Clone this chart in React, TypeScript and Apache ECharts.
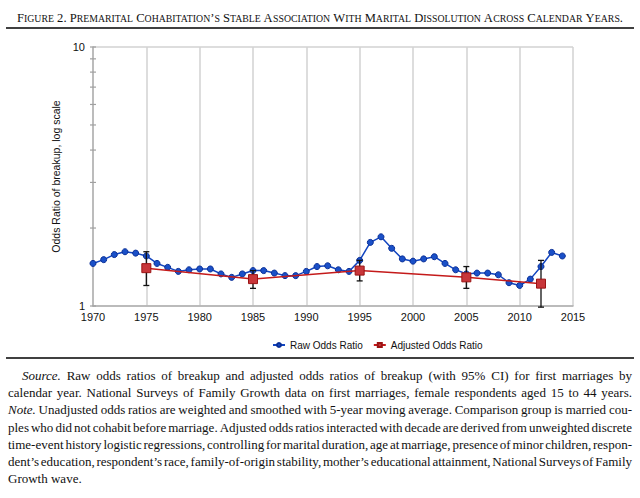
import React, { useEffect, useRef } from "react";
import * as echarts from "echarts";

const years: number[] = [
  1970, 1971, 1972, 1973, 1974, 1975, 1976, 1977, 1978, 1979,
  1980, 1981, 1982, 1983, 1984, 1985, 1986, 1987, 1988, 1989,
  1990, 1991, 1992, 1993, 1994, 1995, 1996, 1997, 1998, 1999,
  2000, 2001, 2002, 2003, 2004, 2005, 2006, 2007, 2008, 2009,
  2010, 2011, 2012, 2013, 2014,
];
const rawOdds: number[] = [
  1.46, 1.51, 1.58, 1.62, 1.6, 1.56, 1.46, 1.41, 1.36, 1.38,
  1.39, 1.39, 1.33, 1.29, 1.33, 1.37, 1.37, 1.34, 1.31, 1.31,
  1.36, 1.42, 1.43, 1.38, 1.36, 1.5, 1.76, 1.85, 1.67, 1.52,
  1.49, 1.52, 1.55, 1.46, 1.38, 1.33, 1.34, 1.34, 1.32, 1.23,
  1.2, 1.27, 1.42, 1.61, 1.56,
];
const adjYears: number[] = [1975, 1985, 1995, 2005, 2012];
const adjOdds: number[] = [1.4, 1.27, 1.37, 1.29, 1.22];
const adjLow: number[] = [1.2, 1.17, 1.25, 1.17, 0.99];
const adjHigh: number[] = [1.62, 1.37, 1.5, 1.42, 1.5];
const minorTicks: number[] = [1, 2, 3, 4, 5, 6, 7, 8, 9, 10];

const titleText =
  "Figure 2. Premarital Cohabitation’s Stable Association With Marital Dissolution Across Calendar Years.";
const yAxisName = "Odds Ratio of breakup, log scale";
const legendNames = ["Raw Odds Ratio", "Adjusted Odds Ratio"];
const noteLines: string[] = [
  "_Source._ Raw odds ratios of breakup and adjusted odds ratios of breakup (with 95% CI) for first marriages by",
  "calendar year. National Surveys of Family Growth data on first marriages, female respondents aged 15 to 44 years.",
  "_Note._ Unadjusted odds ratios are weighted and smoothed with 5-year moving average. Comparison group is married cou-",
  "ples who did not cohabit before marriage. Adjusted odds ratios interacted with decade are derived from unweighted discrete",
  "time-event history logistic regressions, controlling for marital duration, age at marriage, presence of minor children, respon-",
  "dent’s education, respondent’s race, family-of-origin stability, mother’s educational attainment, National Surveys of Family",
  "Growth wave.",
];

const SERIF = "Liberation Serif";
const SANS = "Liberation Sans";

function smallCaps(s: string): string {
  let out = "";
  let i = 0;
  while (i < s.length) {
    const ch = s[i];
    const isLower = ch >= "a" && ch <= "z";
    let j = i;
    while (j < s.length && ((s[j] >= "a" && s[j] <= "z") === isLower)) j++;
    const seg = s.slice(i, j);
    out += isLower ? `{s|${seg.toUpperCase()}}` : `{b|${seg}}`;
    i = j;
  }
  return out;
}

function buildNotes(): any[] {
  const els: any[] = [];
  const fontSize = 13;
  const left = 8;
  const right = 632;
  const tops = [375, 392, 409, 427, 444, 461, 478];
  let ctx: CanvasRenderingContext2D | null = null;
  try {
    ctx = document.createElement("canvas").getContext("2d");
  } catch (e) {
    ctx = null;
  }
  const measure = (w: string, italic: boolean) => {
    if (!ctx) return w.length * 5.6;
    ctx.font = `${italic ? "italic " : ""}${fontSize}px "${SERIF}"`;
    return ctx.measureText(w).width;
  };
  noteLines.forEach((line, li) => {
    const startX = li === 0 ? 22 : left;
    const words = line.split(" ").map((w) => {
      const italic = w.startsWith("_");
      const text = w.replace(/_/g, "");
      return { text, italic, width: measure(text, italic) };
    });
    const total = words.reduce((a, w) => a + w.width, 0);
    const justify = li < noteLines.length - 1 && words.length > 1;
    const space = measure(" ", false);
    const gap = justify ? (right - startX - total) / (words.length - 1) : space;
    let x = startX;
    words.forEach((w) => {
      els.push({
        type: "text",
        x,
        y: tops[li],
        style: {
          text: w.text,
          fontSize,
          fontFamily: SERIF,
          fontStyle: w.italic ? "italic" : "normal",
          fill: "#111",
          verticalAlign: "middle",
          align: "left",
        },
      });
      x += w.width + gap;
    });
  });
  return els;
}

export default function App() {
  const ref = useRef<HTMLDivElement>(null);
  useEffect(() => {
    document.body.style.margin = "0";
    const chart = echarts.init(ref.current!, undefined, { renderer: "svg" });
    const raw = years.map((y, i) => [y, rawOdds[i]]);
    const adj = adjYears.map((y, i) => [y, adjOdds[i]]);
    const err = adjYears.map((y, i) => [y, adjLow[i], adjHigh[i]]);
    const option: any = {
      animation: false,
      backgroundColor: "#fff",
      grid: { left: 93, right: 67, top: 47, bottom: 192 },
      xAxis: {
        type: "value",
        min: 1970,
        max: 2015,
        interval: 5,
        axisLine: { show: true, lineStyle: { color: "#b0b0b0", width: 1.5 } },
        axisTick: { show: false },
        axisLabel: {
          color: "#111",
          fontSize: 11,
          fontFamily: SANS,
          margin: 5,
          formatter: (v: number) => String(v),
        },
        splitLine: { show: true, lineStyle: { color: "#d2d2d2", width: 1.5 } },
      },
      yAxis: {
        type: "log",
        logBase: 10,
        min: 1,
        max: 10,
        name: yAxisName,
        nameLocation: "middle",
        nameGap: 30,
        nameTextStyle: { color: "#111", fontSize: 10.5, fontFamily: SANS },
        axisLine: { show: true, lineStyle: { color: "#b0b0b0", width: 1.5 } },
        axisTick: { show: false },
        axisLabel: {
          color: "#111",
          fontSize: 11,
          fontFamily: SANS,
          margin: 8,
          formatter: (v: number) => String(v),
        },
        splitLine: { show: true, lineStyle: { color: "#d2d2d2", width: 1.5 } },
      },
      legend: {
        data: legendNames,
        left: 267,
        top: 335,
        itemWidth: 12,
        itemHeight: 5,
        itemGap: 10,
        textStyle: { color: "#111", fontSize: 10, fontFamily: SANS },
      },
      graphic: [
        {
          type: "text",
          x: 320,
          y: 18,
          style: {
            text: smallCaps(titleText),
            align: "center",
            verticalAlign: "middle",
            fill: "#111",
            fontFamily: SERIF,
            rich: {
              b: { fontSize: 12.6, fontFamily: SERIF, fill: "#111" },
              s: { fontSize: 9.8, fontFamily: SERIF, fill: "#111" },
            },
          },
        },
        {
          type: "line",
          shape: { x1: 6, y1: 28, x2: 634, y2: 28 },
          style: { stroke: "#000", lineWidth: 1.5 },
        },
        {
          type: "line",
          shape: { x1: 6, y1: 358, x2: 634, y2: 358 },
          style: { stroke: "#000", lineWidth: 1.5 },
        },
        ...buildNotes(),
      ],
      series: [
        {
          type: "custom",
          name: "ticks",
          silent: true,
          clip: false,
          data: minorTicks.map((v) => [1970, v]),
          renderItem: (params: any, api: any) => {
            const p = api.coord([1970, api.value(1)]);
            return {
              type: "line",
              shape: { x1: p[0] - 3, y1: p[1], x2: p[0] + 3, y2: p[1] },
              style: { stroke: "#a0a0a0", lineWidth: 1.2 },
            };
          },
          z: 1,
        },
        {
          name: legendNames[0],
          type: "line",
          data: raw,
          symbol: "circle",
          symbolSize: 6,
          lineStyle: { color: "#1245c0", width: 1.5 },
          itemStyle: { color: "#1a50c8", borderColor: "#0a2f96", borderWidth: 1 },
          z: 3,
        },
        {
          type: "custom",
          name: "ci",
          silent: true,
          clip: false,
          data: err,
          renderItem: (params: any, api: any) => {
            const lo = api.coord([api.value(0), api.value(1)]);
            const hi = api.coord([api.value(0), api.value(2)]);
            const c = 3;
            const st = { stroke: "#111", lineWidth: 1.3 };
            return {
              type: "group",
              children: [
                { type: "line", shape: { x1: lo[0], y1: lo[1], x2: hi[0], y2: hi[1] }, style: st },
                { type: "line", shape: { x1: lo[0] - c, y1: lo[1], x2: lo[0] + c, y2: lo[1] }, style: st },
                { type: "line", shape: { x1: hi[0] - c, y1: hi[1], x2: hi[0] + c, y2: hi[1] }, style: st },
              ],
            };
          },
          z: 4,
        },
        {
          name: legendNames[1],
          type: "line",
          data: adj,
          symbol: "rect",
          symbolSize: 9,
          lineStyle: { color: "#c41a1a", width: 1.5 },
          itemStyle: { color: "#c8363a", borderColor: "#9a1414", borderWidth: 1 },
          z: 5,
        },
      ],
    };
    chart.setOption(option);
    return () => chart.dispose();
  }, []);
  return (
    <div
      ref={ref}
      style={{ position: "absolute", left: 0, top: 0, width: 640, height: 498 }}
    />
  );
}
